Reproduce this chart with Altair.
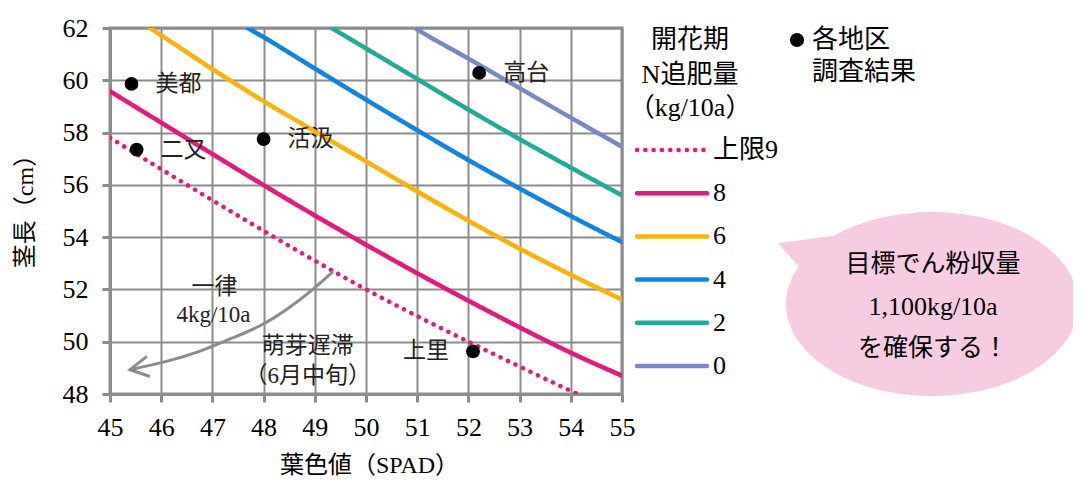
import math
import altair as alt
import pandas as pd

# ---------------- data ----------------
SERIES = ["上限9", "8", "6", "4", "2", "0"]
COLORS = ["#E8177D", "#E8177D", "#FFB300", "#0B86E6", "#1BAE95", "#7889C8"]
DASHES = [[0.1, 8.2], [1, 0], [1, 0], [1, 0], [1, 0], [1, 0]]

X_UL9 = [45, 46, 47, 48, 49, 50, 51, 52, 53, 54, 54.4]
Y_UL9 = [57.80, 56.60, 55.41, 54.24, 53.10, 52.00, 50.98, 50.00, 49.05, 48.12, 47.76]
X_N8 = [45, 46, 47, 48, 49, 50, 51, 52, 53, 54, 55]
Y_N8 = [59.58, 58.38, 57.18, 55.99, 54.83, 53.71, 52.62, 51.57, 50.55, 49.58, 48.70]
X_N6 = [45.78, 46, 47, 48, 49, 50, 51, 52, 53, 54, 55]
Y_N6 = [62.00, 61.72, 60.43, 59.20, 58.05, 56.90, 55.75, 54.63, 53.56, 52.56, 51.61]
X_N4 = [47.69, 48, 49, 50, 51, 52, 53, 54, 55]
Y_N4 = [62.00, 61.65, 60.45, 59.26, 58.09, 56.95, 55.86, 54.81, 53.81]
X_N2 = [49.33, 50, 51, 52, 53, 54, 55]
Y_N2 = [62.00, 61.22, 60.05, 58.88, 57.75, 56.66, 55.60]
X_N0 = [50.96, 51, 52, 53, 54, 55]
Y_N0 = [62.00, 61.95, 60.83, 59.70, 58.57, 57.46]

SITE_NAMES = ["美都", "二又", "活汲", "高台", "上里"]
SITE_X = [45.42, 45.52, 48.00, 52.21, 52.09]
SITE_Y = [59.86, 57.35, 57.75, 60.28, 49.63]
SITE_LABEL_SIDE = ["right", "right", "right", "right", "left"]

ANNOT_TEXT = ["一律", "4kg/10a", "萌芽遅滞", "（6月中旬）"]
ANNOT_X = [47.04, 47.02, 48.86, 48.86]
ANNOT_Y = [52.10, 51.03, 49.85, 48.67]

ARROW_X = [49.355, 48.965, 48.457, 47.930, 47.402, 46.758, 46.113, 45.391]
ARROW_Y = [52.677, 51.988, 51.223, 50.573, 50.152, 49.617, 49.234, 48.928]
HEAD_X = [45.72, 45.39, 45.78]
HEAD_Y = [49.44, 48.93, 48.67]

X_TICKS = list(range(45, 56))
Y_TICKS = list(range(48, 63, 2))

LEGEND_TITLE = ["開花期", "N追肥量", "（kg/10a）"]
SITE_LEGEND = ["各地区", "調査結果"]
BUBBLE_TEXT = ["目標でん粉収量", "1,100kg/10a", "を確保する！"]

# ---------------- styling / layout ----------------
SERIF = "'Liberation Serif', 'Noto Sans CJK JP'"
SANS = "'Noto Sans CJK JP'"
GRID = "#8c8c8c"
W, H = 512, 366
PINK_BG = "#F8CCE0"

series_xy = [(X_UL9, Y_UL9), (X_N8, Y_N8), (X_N6, Y_N6), (X_N4, Y_N4), (X_N2, Y_N2), (X_N0, Y_N0)]
rows = []
for s, (xs, ys) in zip(SERIES, series_xy):
    for i, (xv, yv) in enumerate(zip(xs, ys)):
        rows.append({"series": s, "x": xv, "y": yv, "i": i})
lines_df = pd.DataFrame(rows)

xs_ = alt.Scale(domain=[45, 55], nice=False, zero=False)
ys_ = alt.Scale(domain=[48, 62], nice=False, zero=False)
color_scale = alt.Scale(domain=SERIES, range=COLORS)
dash_scale = alt.Scale(domain=SERIES, range=DASHES)

lines = alt.Chart(lines_df).mark_line(strokeWidth=4.5, strokeCap="round", interpolate="monotone",
                                      clip=True).encode(
    x=alt.X("x:Q", scale=xs_,
            axis=alt.Axis(values=X_TICKS, title="葉色値（SPAD）", titleX=259, titleY=71,
                          titleBaseline="middle", titleAlign="center", labelPadding=12,
                          labelFont=SERIF, titleFont=SERIF, format="d")),
    y=alt.Y("y:Q", scale=ys_,
            axis=alt.Axis(values=Y_TICKS, title="茎長（cm）", titleX=-85, titleY=177,
                          titleAngle=-90, titleBaseline="middle", titleAlign="center",
                          labelPadding=14, labelFont=SERIF, titleFont=SERIF, format="d")),
    color=alt.Color("series:N", scale=color_scale, legend=None),
    strokeDash=alt.StrokeDash("series:N", scale=dash_scale, legend=None),
    detail="series:N",
    order="i:Q",
)

sites_df = pd.DataFrame({"name": SITE_NAMES, "x": SITE_X, "y": SITE_Y, "side": SITE_LABEL_SIDE})
dots = alt.Chart(sites_df).mark_circle(size=190, color="black", opacity=1).encode(
    x=alt.X("x:Q", scale=xs_), y=alt.Y("y:Q", scale=ys_))
site_lab_r = alt.Chart(sites_df).transform_filter("datum.side == 'right'").mark_text(
    align="left", baseline="middle", dx=24, font=SERIF, fontSize=23, color="#222").encode(
    x=alt.X("x:Q", scale=xs_), y=alt.Y("y:Q", scale=ys_), text="name:N")
site_lab_l = alt.Chart(sites_df).transform_filter("datum.side == 'left'").mark_text(
    align="right", baseline="middle", dx=-24, font=SERIF, fontSize=23, color="#222").encode(
    x=alt.X("x:Q", scale=xs_), y=alt.Y("y:Q", scale=ys_), text="name:N")

annot_df = pd.DataFrame({"t": ANNOT_TEXT, "x": ANNOT_X, "y": ANNOT_Y})
annots = alt.Chart(annot_df).mark_text(align="center", baseline="middle", font=SERIF,
                                       fontSize=23, color="#222").encode(
    x=alt.X("x:Q", scale=xs_), y=alt.Y("y:Q", scale=ys_), text="t:N")

arrow_df = pd.DataFrame({"x": ARROW_X, "y": ARROW_Y, "i": range(len(ARROW_X))})
arrow = alt.Chart(arrow_df).mark_line(color=GRID, strokeWidth=3, interpolate="basis").encode(
    x=alt.X("x:Q", scale=xs_), y=alt.Y("y:Q", scale=ys_), order="i:Q")
head_df = pd.DataFrame({"x": HEAD_X, "y": HEAD_Y, "i": range(len(HEAD_X))})
head = alt.Chart(head_df).mark_line(color=GRID, strokeWidth=3, strokeJoin="miter").encode(
    x=alt.X("x:Q", scale=xs_), y=alt.Y("y:Q", scale=ys_), order="i:Q")

# ---------------- legend (drawn in pixel space right of the plot) ----------------
LEG_X0, LEG_X1, LEG_LX = 527, 597, 603
LEG_Y0, LEG_DY = 122, 43.2
leg_df = pd.DataFrame({"series": SERIES,
                       "py": [LEG_Y0 + k * LEG_DY for k in range(len(SERIES))]})
leg_lines = alt.Chart(leg_df).mark_rule(strokeWidth=4.5, strokeCap="round").encode(
    x=alt.value(LEG_X0), x2=alt.value(LEG_X1),
    y=alt.Y("py:Q", scale=None),
    color=alt.Color("series:N", scale=color_scale, legend=None),
    strokeDash=alt.StrokeDash("series:N", scale=dash_scale, legend=None))
leg_text = alt.Chart(leg_df).mark_text(align="left", baseline="middle", font=SERIF,
                                       fontSize=26, color="black").encode(
    x=alt.value(LEG_LX), y=alt.Y("py:Q", scale=None), text="series:N")

title_df = pd.DataFrame({"t": LEGEND_TITLE, "py": [12, 47, 80]})
leg_title = alt.Chart(title_df).mark_text(align="center", baseline="middle", font=SERIF,
                                          fontSize=26, color="black").encode(
    x=alt.value(580), y=alt.Y("py:Q", scale=None), text="t:N")

site_leg_df = pd.DataFrame({"t": SITE_LEGEND, "py": [12, 44]})
site_leg_dot = alt.Chart(pd.DataFrame({"k": [0]})).mark_circle(size=200, color="black", opacity=1).encode(
    x=alt.value(687), y=alt.value(12))
site_leg_text = alt.Chart(site_leg_df).mark_text(align="left", baseline="middle", font=SERIF,
                                                 fontSize=26, color="black").encode(
    x=alt.value(702), y=alt.Y("py:Q", scale=None), text="t:N")

# ---------------- speech bubble ----------------
RX, RY = 146.0, 92.0
CX, CY = 822, 276
ry_u = RY / RX
tip = (-1.055, -0.418)
pts = []
for deg in range(0, 360, 3):
    if 205 < deg < 228:
        if tip not in pts:
            pts.append(tip)
        continue
    t = math.radians(deg)
    pts.append((math.cos(t), ry_u * math.sin(t)))
path = "M" + " L".join(f"{px:.4f},{py:.4f}" for px, py in pts) + " Z"
bubble = alt.Chart(pd.DataFrame({"k": [0]})).mark_point(
    shape=path, filled=True, fill=PINK_BG, fillOpacity=1, strokeWidth=0, size=(2 * RX) ** 2).encode(
    x=alt.value(CX), y=alt.value(CY))
bub_df = pd.DataFrame({"t": BUBBLE_TEXT, "py": [236, 279, 320],
                       "f": ["sans", "serif", "sans"]})
bub_text_sans = alt.Chart(bub_df).transform_filter("datum.f == 'sans'").mark_text(
    align="center", baseline="middle", font=SANS, fontSize=25, color="black").encode(
    x=alt.value(823), y=alt.Y("py:Q", scale=None), text="t:N")
bub_text_serif = alt.Chart(bub_df).transform_filter("datum.f == 'serif'").mark_text(
    align="center", baseline="middle", font=SERIF, fontSize=26, color="black").encode(
    x=alt.value(823), y=alt.Y("py:Q", scale=None), text="t:N")

chart = alt.layer(
    lines, arrow, head, dots, site_lab_r, site_lab_l, annots,
    leg_lines, leg_text, leg_title, site_leg_dot, site_leg_text,
    bubble, bub_text_sans, bub_text_serif,
).properties(
    width=W, height=H,
    autosize=alt.AutoSizeParams(type="none"),
    padding={"left": 102, "top": 20, "right": 451, "bottom": 83},
).configure_view(
    stroke=GRID, strokeWidth=3, fill="white"
).configure_axis(
    grid=True, gridColor=GRID, gridWidth=2, gridOpacity=1,
    domainColor=GRID, domainWidth=3, tickColor=GRID, tickWidth=3, tickSize=8,
    labelFont=SERIF, labelFontSize=26, labelColor="black",
    titleFont=SERIF, titleFontSize=24, titleFontWeight="normal", titleColor="black",
    labelFlush=False, labelOverlap=False,
)

chart.save("out.html", embed_options={"renderer": "svg", "actions": False})
